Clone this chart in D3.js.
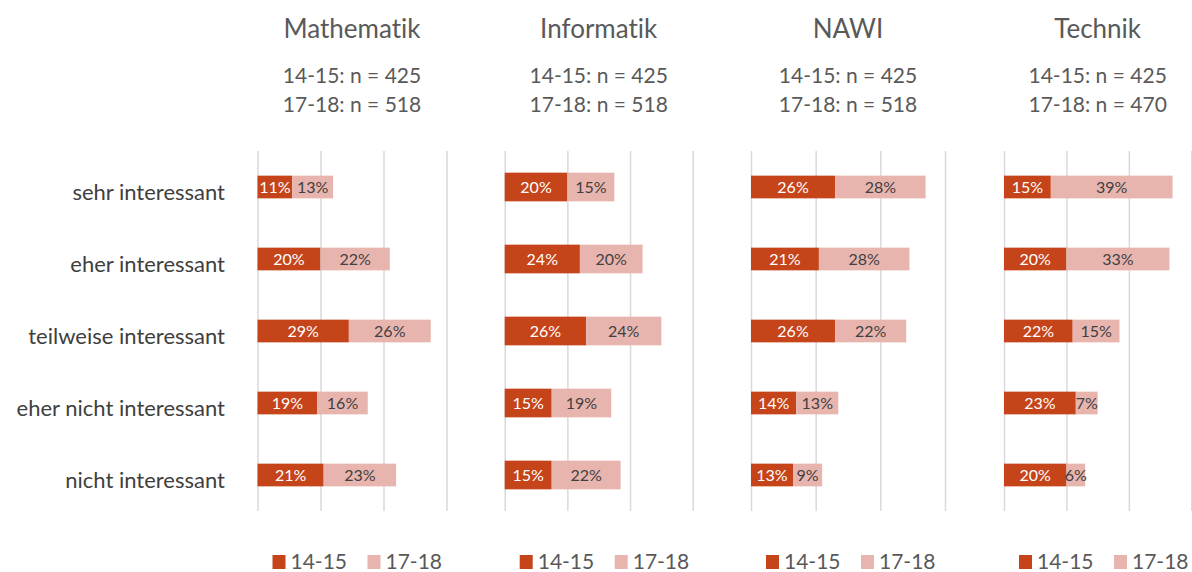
<!DOCTYPE html>
<html>
<head>
<meta charset="utf-8">
<script src="https://d3js.org/d3.v7.min.js"></script>
<style>
  body { margin: 0; background: #fff; }
  svg { font-family: Lato, "Open Sans", sans-serif; font-variant-ligatures: none; }
  .grid line { stroke: #d9d9d9; stroke-width: 1.5; }
  .grid path { display: none; }
</style>
</head>
<body>
<svg></svg>
<script>
// categories (top to bottom)
var categories = ["sehr interessant", "eher interessant", "teilweise interessant", "eher nicht interessant", "nicht interessant"];
var seriesNames = ["14-15", "17-18"];
var subjects = ["Mathematik", "Informatik", "NAWI", "Technik"];
var sampleOld = [425, 425, 425, 425];
var sampleNew = [518, 518, 518, 470];
var tickValues = [0, 20, 40, 60];

// percent values per subject, one array per series
var mathe1415 = [11, 20, 29, 19, 21];
var mathe1718 = [13, 22, 26, 16, 23];
var info1415 = [20, 24, 26, 15, 15];
var info1718 = [15, 20, 24, 19, 22];
var nawi1415 = [26, 21, 26, 14, 13];
var nawi1718 = [28, 28, 22, 13, 9];
var technik1415 = [15, 20, 22, 23, 20];
var technik1718 = [39, 33, 15, 7, 6];

var values1415 = [mathe1415, info1415, nawi1415, technik1415];
var values1718 = [mathe1718, info1718, nawi1718, technik1718];

var colors = ["#c5441a", "#e8b5ae"];

// panel geometry (left edge + width of the 0..60 range, bar thickness)
var panels = [
  { x0: 257.5, w: 189, bar: 22.7 },
  { x0: 504.7, w: 188, bar: 28.7 },
  { x0: 751, w: 194, bar: 22.7 },
  { x0: 1004, w: 187.3, bar: 22.7 }
];

var width = 1192, height = 572;
var plotTop = 151, plotBottom = 511;

var svg = d3.select("svg").attr("width", width).attr("height", height);

// category labels on the left
var yLabels = d3.scaleBand().domain(categories).range([plotTop, plotBottom]);

svg.append("g")
  .selectAll("text")
  .data(categories)
  .enter()
  .append("text")
  .attr("x", 225)
  .attr("y", function(d) { return yLabels(d) + yLabels.bandwidth() / 2 + 13; })
  .attr("text-anchor", "end")
  .attr("font-size", "22px")
  .attr("fill", "#404040")
  .text(function(d) { return d; });

subjects.forEach(function(subject, i) {
  var p = panels[i];
  var xScale = d3.scaleLinear().domain([0, 60]).range([p.x0, p.x0 + p.w]);
  var pad = 1 - p.bar / 72;
  var yScale = d3.scaleBand().domain(categories).range([plotTop, plotBottom])
    .paddingInner(pad).paddingOuter(pad / 2);

  var g = svg.append("g");
  var cx = p.x0 + p.w / 2;

  // headers
  g.append("text")
    .attr("x", cx).attr("y", 38)
    .attr("text-anchor", "middle")
    .attr("font-size", "26px")
    .attr("fill", "#595959")
    .text(subject);
  g.append("text")
    .attr("x", cx).attr("y", 83)
    .attr("text-anchor", "middle")
    .attr("font-size", "21px")
    .attr("fill", "#595959")
    .text(seriesNames[0] + ": n = " + sampleOld[i]);
  g.append("text")
    .attr("x", cx).attr("y", 112)
    .attr("text-anchor", "middle")
    .attr("font-size", "21px")
    .attr("fill", "#595959")
    .text(seriesNames[1] + ": n = " + sampleNew[i]);

  // vertical gridlines
  g.append("g")
    .attr("class", "grid")
    .attr("transform", "translate(0," + plotBottom + ")")
    .call(d3.axisBottom(xScale).tickValues(tickValues).tickSize(-(plotBottom - plotTop)).tickFormat(""));

  // stacked rows
  var rows = categories.map(function(c, k) {
    return { cat: c, a: values1415[i][k], b: values1718[i][k] };
  });

  g.selectAll(".barA")
    .data(rows)
    .enter()
    .append("rect")
    .attr("class", "barA")
    .attr("x", xScale(0))
    .attr("y", function(d) { return yScale(d.cat); })
    .attr("width", function(d) { return xScale(d.a) - xScale(0); })
    .attr("height", yScale.bandwidth())
    .attr("fill", colors[0]);

  g.selectAll(".barB")
    .data(rows)
    .enter()
    .append("rect")
    .attr("class", "barB")
    .attr("x", function(d) { return xScale(d.a); })
    .attr("y", function(d) { return yScale(d.cat); })
    .attr("width", function(d) { return xScale(d.a + d.b) - xScale(d.a); })
    .attr("height", yScale.bandwidth())
    .attr("fill", colors[1]);

  // value labels
  g.selectAll(".labA")
    .data(rows)
    .enter()
    .append("text")
    .attr("class", "labA")
    .attr("x", function(d) { return xScale(d.a / 2); })
    .attr("y", function(d) { return yScale(d.cat) + yScale.bandwidth() / 2 + 6; })
    .attr("text-anchor", "middle")
    .attr("font-size", "16px")
    .attr("fill", "#fff")
    .text(function(d) { return d.a + "%"; });

  g.selectAll(".labB")
    .data(rows)
    .enter()
    .append("text")
    .attr("class", "labB")
    .attr("x", function(d) { return xScale(d.a + d.b / 2); })
    .attr("y", function(d) { return yScale(d.cat) + yScale.bandwidth() / 2 + 6; })
    .attr("text-anchor", "middle")
    .attr("font-size", "16px")
    .attr("fill", "#404040")
    .text(function(d) { return d.b + "%"; });

  // legend
  var legend = g.append("g").attr("transform", "translate(" + (p.x0 + 15) + ",554)");
  seriesNames.forEach(function(name, k) {
    legend.append("rect")
      .attr("x", k * 95).attr("y", 1)
      .attr("width", 13).attr("height", 14)
      .attr("fill", colors[k]);
    legend.append("text")
      .attr("x", k * 95 + 18).attr("y", 15)
      .attr("font-size", "21px")
      .attr("fill", "#595959")
      .text(name);
  });
});
</script>
</body>
</html>
